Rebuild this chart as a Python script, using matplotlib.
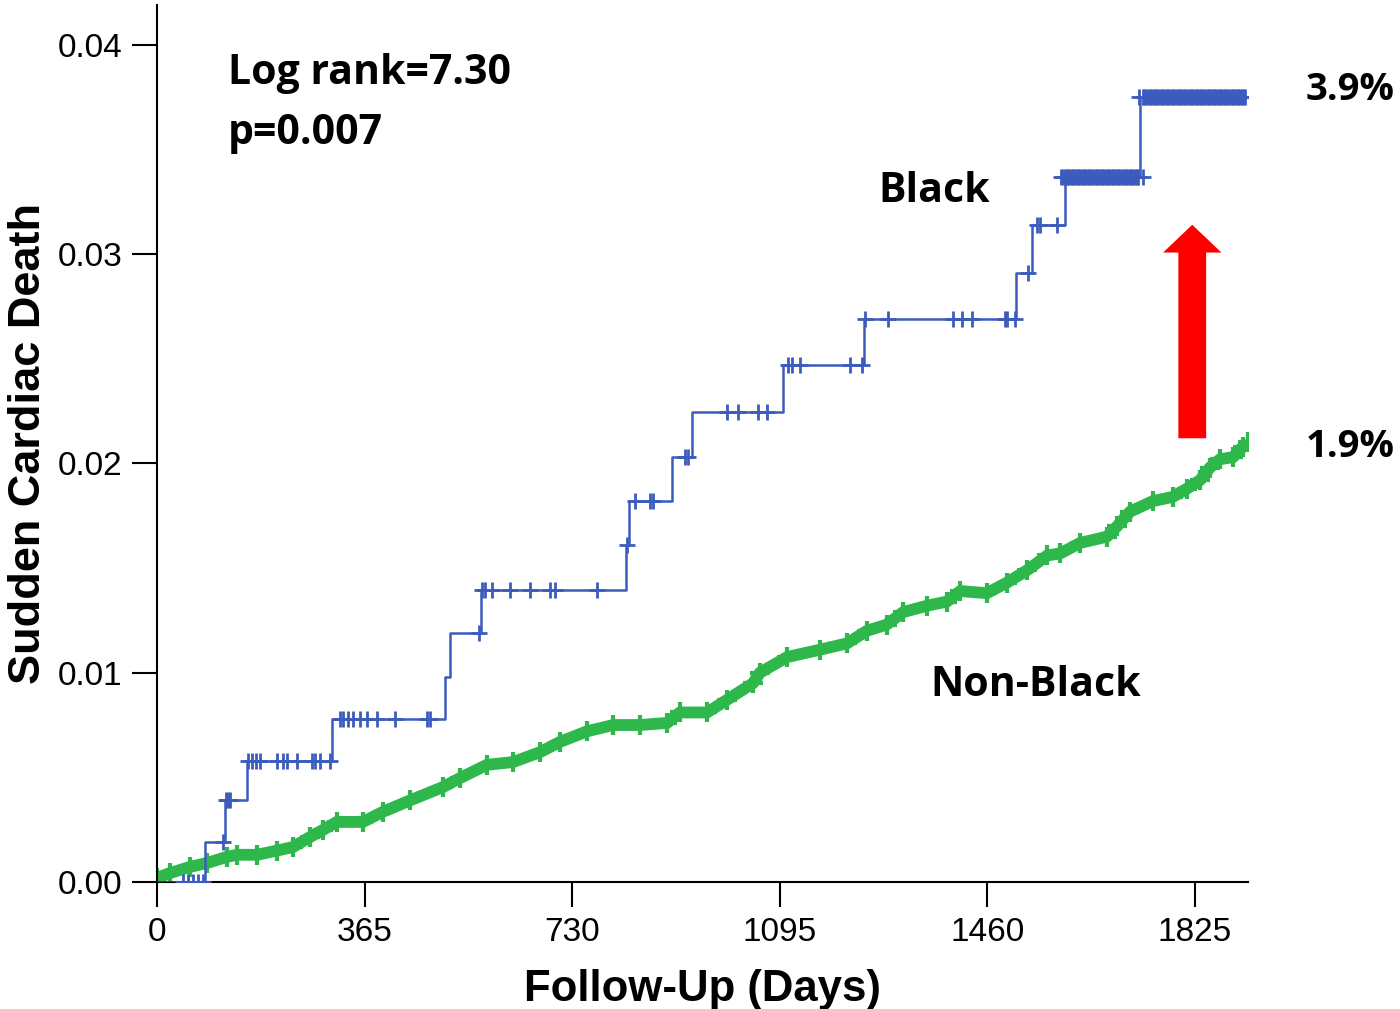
import matplotlib
matplotlib.use("Agg")
import matplotlib.pyplot as plt

# ---------------- data ----------------
black_times = [0, 84, 120, 158, 307, 506, 515, 569, 824, 830, 905, 940, 1100, 1243, 1510, 1538, 1596, 1728, 1918]
black_levels = [0, 0.0019, 0.0039, 0.0058, 0.0078, 0.0098, 0.0119, 0.01395, 0.0161, 0.0182, 0.0203,
                0.02245, 0.0247, 0.0269, 0.0291, 0.0314, 0.0337, 0.0375, 0.0375]

# censoring marks of the Black group: level -> days
black_censored = {
    0.0: [46, 55, 63, 72, 81],
    0.0019: [116],
    0.0039: [122, 125, 128],
    0.0058: [160, 167, 174, 181, 211, 222, 229, 246, 272, 278, 286, 304],
    0.0078: [322, 327, 336, 345, 357, 369, 387, 418, 475, 480],
    0.0119: [566],
    0.01395: [571, 576, 589, 620, 656, 691, 699, 773],
    0.0161: [826],
    0.0182: [840, 866, 872],
    0.0203: [928, 933],
    0.02245: [1002, 1021, 1056, 1072],
    0.0247: [1109, 1116, 1130, 1218, 1239],
    0.0269: [1244, 1285, 1399, 1415, 1432, 1490, 1494, 1508],
    0.0291: [1531],
    0.0314: [1547, 1552, 1582],
    0.0337: [1590, 1593, 1596, 1599, 1602, 1605, 1608, 1611, 1614, 1617, 1620, 1623, 1626, 1629,
             1632, 1635, 1638, 1641, 1644, 1647, 1650, 1653, 1656, 1659, 1662, 1665, 1668, 1671,
             1674, 1677, 1680, 1683, 1686, 1689, 1692, 1695, 1698, 1701, 1704, 1707, 1710, 1713,
             1716, 1719, 1722, 1725, 1734],
    0.0375: [1727, 1733, 1736, 1739, 1742, 1745, 1748, 1751, 1754, 1757, 1760, 1763, 1766, 1769,
             1772, 1775, 1778, 1781, 1784, 1787, 1790, 1793, 1796, 1799, 1802, 1805, 1808, 1811,
             1814, 1817, 1820, 1823, 1826, 1829, 1832, 1835, 1838, 1841, 1844, 1847, 1850, 1853,
             1856, 1859, 1862, 1865, 1868, 1871, 1874, 1877, 1880, 1883, 1886, 1889, 1892, 1895,
             1898, 1901, 1904, 1907, 1910, 1913],
}

green_days = [0, 23, 58, 88, 123, 141, 176, 211, 239, 269, 292, 316, 362, 397, 445, 503, 533, 580,
              626, 673, 709, 756, 802, 849, 897, 919, 967, 1002, 1048, 1060, 1108, 1166, 1213, 1248,
              1283, 1312, 1354, 1389, 1412, 1459, 1494, 1530, 1565, 1588, 1623, 1670, 1688, 1711,
              1751, 1786, 1811, 1834, 1851, 1869, 1892, 1909, 1918]
green_vals = [0.0002, 0.00043, 0.00072, 0.00091, 0.0012, 0.0013, 0.0013, 0.0015, 0.00167, 0.00215,
              0.00249, 0.00287, 0.00287, 0.00335, 0.0039, 0.00454, 0.00497, 0.0056, 0.00573, 0.0062,
              0.0067, 0.0072, 0.0075, 0.0075, 0.0076, 0.0081, 0.0081, 0.0087, 0.0095, 0.0100, 0.01075,
              0.0111, 0.0114, 0.0120, 0.0123, 0.0129, 0.0132, 0.0134, 0.0139, 0.0138, 0.0143, 0.0149,
              0.0156, 0.0157, 0.0162, 0.0165, 0.0170, 0.0177, 0.0182, 0.0184, 0.0188, 0.0192, 0.0198,
              0.0202, 0.0203, 0.0208, 0.0210]

x_ticks = [0, 365, 730, 1095, 1460, 1825]
y_ticks = [0.00, 0.01, 0.02, 0.03, 0.04]
y_tick_labels = ["0.00", "0.01", "0.02", "0.03", "0.04"]

BLUE = "#3b5bbd"
GREEN = "#2eb84b"

W, H = 1400, 1009
fig = plt.figure(figsize=(W / 100, H / 100), dpi=100)
ax = fig.add_axes([157 / W, 1 - 882 / H, (1248 - 157) / W, (882 - 5) / H])

# green (Non-Black): many tiny steps with censor marks -> thick jagged band
ax.plot(green_days, green_vals, color=GREEN, lw=8.5, solid_capstyle="butt", zorder=2)
ax.plot(green_days, green_vals, ls="none", marker="+", ms=14, mew=3, color=GREEN, zorder=2)

# blue (Black)
ax.plot(black_times, black_levels, drawstyle="steps-post", color=BLUE, lw=1.8, zorder=3)
cx = [d for lvl, days in black_censored.items() for d in days]
cy = [lvl for lvl, days in black_censored.items() for d in days]
ax.plot(cx, cy, ls="none", marker="+", ms=12, mew=2, color=BLUE, zorder=3)

ax.set_xlim(0, 1918)
ax.set_ylim(0, 0.0419)
ax.set_xticks(x_ticks)
ax.set_xticklabels([str(t) for t in x_ticks])
ax.set_yticks(y_ticks)
ax.set_yticklabels(y_tick_labels)

for s in ["top", "right"]:
    ax.spines[s].set_visible(False)
for s in ["left", "bottom"]:
    ax.spines[s].set_linewidth(1.5)
ax.tick_params(axis="both", direction="out", length=18, width=1.5, pad=7,
               labelsize=24)
for lab in ax.get_xticklabels() + ax.get_yticklabels():
    lab.set_fontfamily("Liberation Sans")

ax.set_xlabel("Follow-Up (Days)", fontsize=31.5, fontweight="bold", family="Liberation Sans", labelpad=15)
ax.set_ylabel("Sudden Cardiac Death", fontsize=32.5, fontweight="bold", family="Liberation Sans", labelpad=6)

# annotations
def ftext(px, py, s, **kw):
    fig.text(px / W, 1 - py / H, s, **kw)

akw = dict(fontsize=29.5, fontweight="bold", family="Open Sans", va="center", ha="left", color="black")
pkw = dict(akw, fontsize=27.5)
ftext(228, 74, "Log rank=7.30", **akw)
ftext(228, 134, "p=0.007", **akw)
ftext(878, 191, "Black", **akw)
ftext(930, 686, "Non-Black", **akw)
ftext(1306, 90, "3.9%", **pkw)
ftext(1306, 447, "1.9%", **pkw)

# red arrow
ax.annotate("", xy=(1820, 0.0314), xytext=(1820, 0.0212),
            arrowprops=dict(arrowstyle="simple,head_width=4.2,head_length=2.0,tail_width=2.0",
                            color="#ff0000", shrinkA=0, shrinkB=0, mutation_scale=10, lw=0),
            annotation_clip=False)

fig.savefig("out.png", dpi=100)
